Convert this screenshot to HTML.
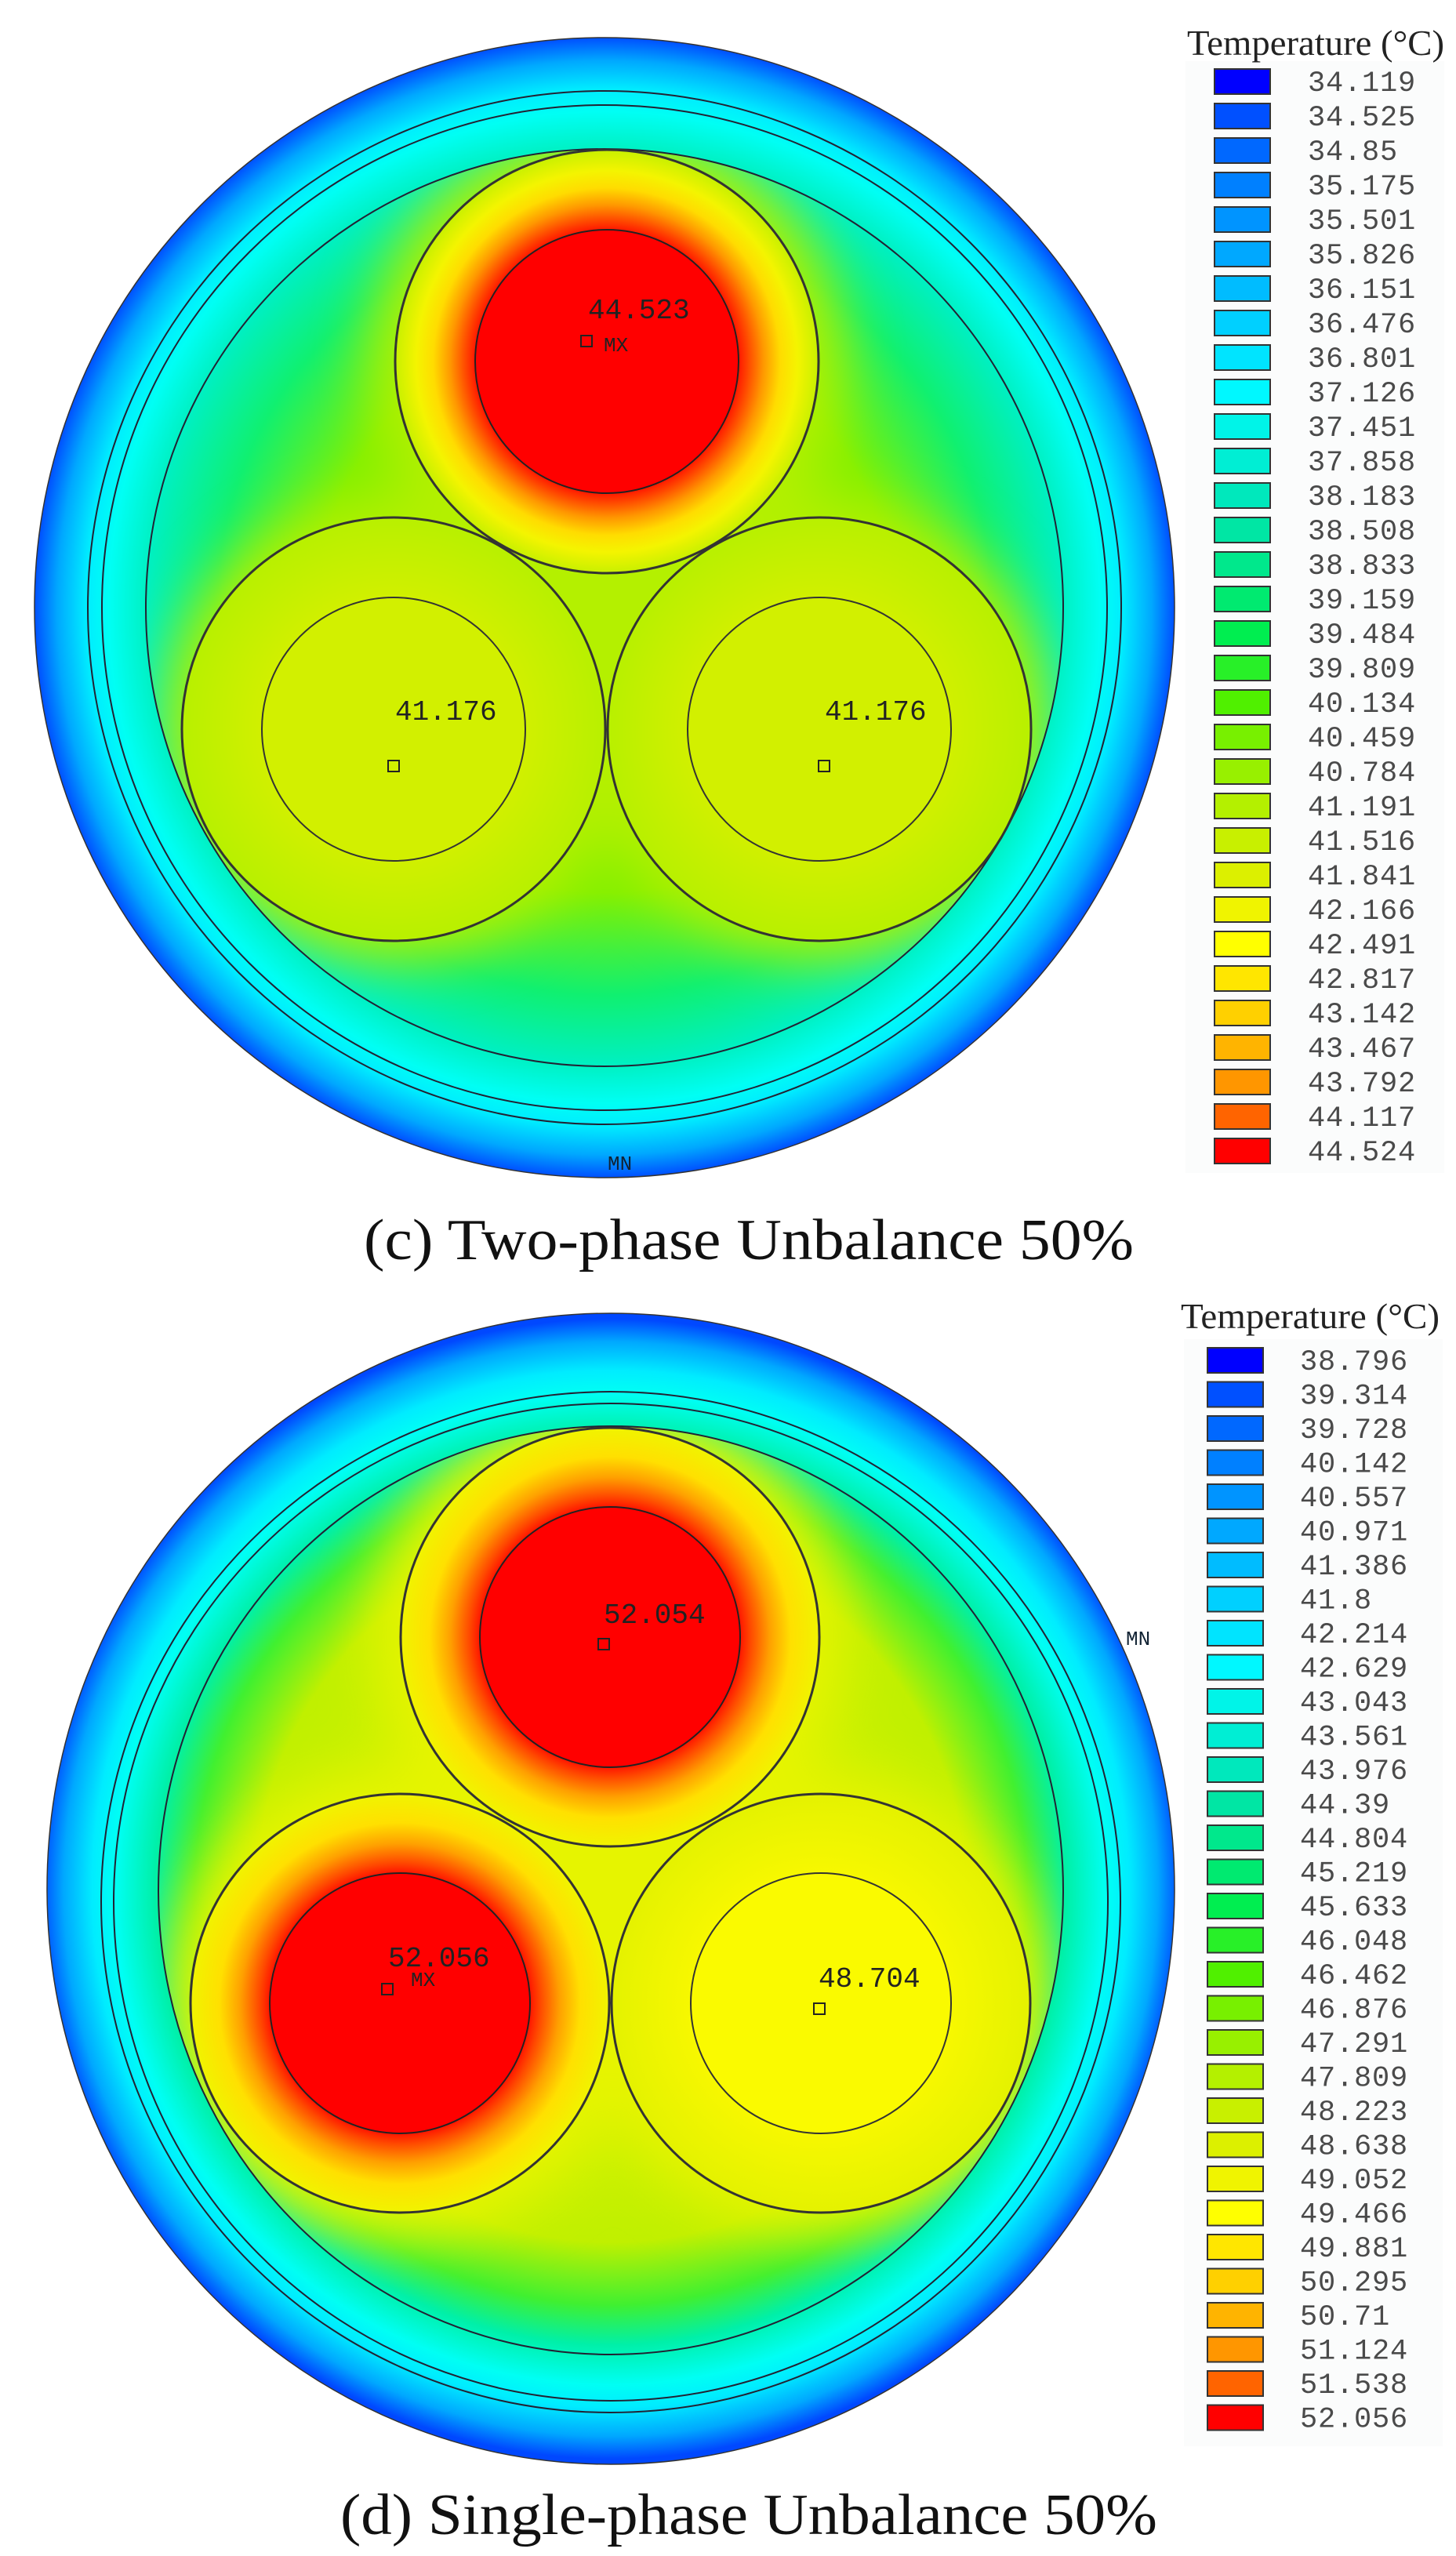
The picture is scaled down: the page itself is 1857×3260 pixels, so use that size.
<!DOCTYPE html>
<html><head><meta charset="utf-8">
<style>
html,body{margin:0;padding:0;background:#fff;}
svg{display:block;}
.lg{font-family:"Liberation Mono",monospace;font-size:37px;fill:#4a4a4a;letter-spacing:0.8px;}
.pl{font-family:"Liberation Mono",monospace;font-size:36px;fill:#222;}
.tt{font-family:"Liberation Serif",serif;font-size:46px;fill:#222;}
.cap{font-family:"Liberation Serif",serif;font-size:74px;fill:#111;}
</style></head>
<body>
<svg width="1857" height="3260" viewBox="0 0 1857 3260" xmlns="http://www.w3.org/2000/svg">
<defs>
 <radialGradient id="outA" gradientUnits="userSpaceOnUse" cx="771" cy="775" r="727">
  <stop offset="0" stop-color="#a8f000"/>
  <stop offset="0.5" stop-color="#80f000"/>
  <stop offset="0.68" stop-color="#10f070"/>
  <stop offset="0.8" stop-color="#00f0c0"/>
  <stop offset="0.87" stop-color="#00fff4"/>
  <stop offset="0.91" stop-color="#00ecff"/>
  <stop offset="0.96" stop-color="#00a8ff"/>
  <stop offset="1" stop-color="#0050ff"/>
 </radialGradient>
 <radialGradient id="outB" gradientUnits="userSpaceOnUse" cx="779" cy="2409" r="727">
  <stop offset="0" stop-color="#e4f200"/>
  <stop offset="0.62" stop-color="#c0f000"/>
  <stop offset="0.73" stop-color="#40f030"/>
  <stop offset="0.8" stop-color="#00f0a8"/>
  <stop offset="0.87" stop-color="#00fff4"/>
  <stop offset="0.91" stop-color="#00ecff"/>
  <stop offset="0.96" stop-color="#00a8ff"/>
  <stop offset="1" stop-color="#0048ff"/>
 </radialGradient>
 <radialGradient id="hotA" gradientUnits="userSpaceOnUse" cx="0" cy="0" r="270">
  <stop offset="0.6" stop-color="#ff0000"/>
  <stop offset="0.66" stop-color="#ff4000"/>
  <stop offset="0.74" stop-color="#ff9800"/>
  <stop offset="0.82" stop-color="#ffdc00"/>
  <stop offset="0.9" stop-color="#f4f400"/>
  <stop offset="1" stop-color="#c8f000"/>
 </radialGradient>
 <radialGradient id="hotB" gradientUnits="userSpaceOnUse" cx="0" cy="0" r="268">
  <stop offset="0.6" stop-color="#ff0000"/>
  <stop offset="0.67" stop-color="#ff4a00"/>
  <stop offset="0.76" stop-color="#ffa000"/>
  <stop offset="0.86" stop-color="#ffe000"/>
  <stop offset="1" stop-color="#f0f400"/>
 </radialGradient>
 <radialGradient id="warmA" gradientUnits="userSpaceOnUse" cx="0" cy="0" r="270">
  <stop offset="0.6" stop-color="#d2f000"/>
  <stop offset="1" stop-color="#b8f000"/>
 </radialGradient>
 <radialGradient id="warmB" gradientUnits="userSpaceOnUse" cx="0" cy="0" r="268">
  <stop offset="0.6" stop-color="#f8f800"/>
  <stop offset="1" stop-color="#e4f200"/>
 </radialGradient>
 <filter id="bl" x="-30%" y="-30%" width="160%" height="160%"><feGaussianBlur stdDeviation="35"/></filter>
 <clipPath id="cA"><circle cx="771" cy="775" r="585"/></clipPath>
 <clipPath id="cB"><ellipse cx="779" cy="2411" rx="577" ry="592"/></clipPath>
</defs>

<!-- ============ TOP CHART ============ -->
<circle cx="771" cy="775" r="727" fill="url(#outA)" stroke="#333" stroke-width="1.5"/>
<g clip-path="url(#cA)">
 <g filter="url(#bl)" fill="#b4f000">
  <circle cx="774" cy="460" r="300"/>
  <circle cx="502" cy="930" r="295"/>
  <circle cx="1045" cy="930" r="295"/>
  <polygon points="774,460 502,930 1045,930"/>
 </g>
</g>
<circle cx="771" cy="775" r="659" fill="none" stroke="#223" stroke-width="2"/>
<circle cx="771" cy="775" r="641" fill="none" stroke="#223" stroke-width="2"/>
<circle cx="771" cy="775" r="585" fill="none" stroke="#223" stroke-width="2"/>
<g transform="translate(502,930)"><circle r="270" fill="url(#warmA)" stroke="#333" stroke-width="3"/><circle r="168" fill="none" stroke="#333" stroke-width="2"/></g>
<g transform="translate(1045,930)"><circle r="270" fill="url(#warmA)" stroke="#333" stroke-width="3"/><circle r="168" fill="none" stroke="#333" stroke-width="2"/></g>
<g transform="translate(774,461)"><circle r="270" fill="url(#hotA)" stroke="#333" stroke-width="3"/><circle r="168" fill="#ff0000" stroke="#222" stroke-width="2"/></g>
<text class="pl" x="750" y="406">44.523</text>
<rect x="741" y="428" width="14" height="14" fill="none" stroke="#222" stroke-width="2"/>
<text class="pl" x="770" y="448" style="font-size:26px">MX</text>
<text class="pl" x="504" y="918">41.176</text>
<rect x="495" y="970" width="14" height="14" fill="none" stroke="#222" stroke-width="2"/>
<text class="pl" x="1052" y="918">41.176</text>
<rect x="1044" y="970" width="14" height="14" fill="none" stroke="#222" stroke-width="2"/>
<text class="pl" x="775" y="1492" style="font-size:26px;fill:#123">MN</text>

<!-- legend top -->
<rect x="1512" y="78" width="330" height="1418" fill="#fbfcfc"/>
<text class="tt" x="1514" y="70" textLength="328" lengthAdjust="spacingAndGlyphs">Temperature (°C)</text>
<g stroke="#333" stroke-width="2">
<rect x="1549" y="88" width="71" height="32" fill="#0000ff"/>
<rect x="1549" y="132" width="71" height="32" fill="#0050ff"/>
<rect x="1549" y="176" width="71" height="32" fill="#0068ff"/>
<rect x="1549" y="220" width="71" height="32" fill="#0080ff"/>
<rect x="1549" y="264" width="71" height="32" fill="#0094ff"/>
<rect x="1549" y="308" width="71" height="32" fill="#00a8ff"/>
<rect x="1549" y="352" width="71" height="32" fill="#00bcff"/>
<rect x="1549" y="396" width="71" height="32" fill="#00d0ff"/>
<rect x="1549" y="440" width="71" height="32" fill="#00e4ff"/>
<rect x="1549" y="484" width="71" height="32" fill="#00f8ff"/>
<rect x="1549" y="528" width="71" height="32" fill="#00f4e8"/>
<rect x="1549" y="572" width="71" height="32" fill="#00eed4"/>
<rect x="1549" y="616" width="71" height="32" fill="#00e8bc"/>
<rect x="1549" y="660" width="71" height="32" fill="#00e6a4"/>
<rect x="1549" y="704" width="71" height="32" fill="#00e88c"/>
<rect x="1549" y="748" width="71" height="32" fill="#00ea70"/>
<rect x="1549" y="792" width="71" height="32" fill="#00ee50"/>
<rect x="1549" y="836" width="71" height="32" fill="#28f028"/>
<rect x="1549" y="880" width="71" height="32" fill="#50f000"/>
<rect x="1549" y="924" width="71" height="32" fill="#78f000"/>
<rect x="1549" y="968" width="71" height="32" fill="#98f000"/>
<rect x="1549" y="1012" width="71" height="32" fill="#b4f000"/>
<rect x="1549" y="1056" width="71" height="32" fill="#c8f000"/>
<rect x="1549" y="1100" width="71" height="32" fill="#dcf000"/>
<rect x="1549" y="1144" width="71" height="32" fill="#f0f400"/>
<rect x="1549" y="1188" width="71" height="32" fill="#ffff00"/>
<rect x="1549" y="1232" width="71" height="32" fill="#ffe600"/>
<rect x="1549" y="1276" width="71" height="32" fill="#ffd000"/>
<rect x="1549" y="1320" width="71" height="32" fill="#ffb400"/>
<rect x="1549" y="1364" width="71" height="32" fill="#ff9600"/>
<rect x="1549" y="1408" width="71" height="32" fill="#ff6400"/>
<rect x="1549" y="1452" width="71" height="32" fill="#ff0000"/>
</g>
<g class="lg">
<text x="1668" y="116">34.119</text>
<text x="1668" y="160">34.525</text>
<text x="1668" y="204">34.85</text>
<text x="1668" y="248">35.175</text>
<text x="1668" y="292">35.501</text>
<text x="1668" y="336">35.826</text>
<text x="1668" y="380">36.151</text>
<text x="1668" y="424">36.476</text>
<text x="1668" y="468">36.801</text>
<text x="1668" y="512">37.126</text>
<text x="1668" y="556">37.451</text>
<text x="1668" y="600">37.858</text>
<text x="1668" y="644">38.183</text>
<text x="1668" y="688">38.508</text>
<text x="1668" y="732">38.833</text>
<text x="1668" y="776">39.159</text>
<text x="1668" y="820">39.484</text>
<text x="1668" y="864">39.809</text>
<text x="1668" y="908">40.134</text>
<text x="1668" y="952">40.459</text>
<text x="1668" y="996">40.784</text>
<text x="1668" y="1040">41.191</text>
<text x="1668" y="1084">41.516</text>
<text x="1668" y="1128">41.841</text>
<text x="1668" y="1172">42.166</text>
<text x="1668" y="1216">42.491</text>
<text x="1668" y="1260">42.817</text>
<text x="1668" y="1304">43.142</text>
<text x="1668" y="1348">43.467</text>
<text x="1668" y="1392">43.792</text>
<text x="1668" y="1436">44.117</text>
<text x="1668" y="1480">44.524</text>
</g>

<text class="cap" x="464" y="1606" textLength="982" lengthAdjust="spacingAndGlyphs">(c) Two-phase Unbalance 50%</text>

<!-- ============ BOTTOM CHART ============ -->
<ellipse cx="779" cy="2409" rx="719" ry="734" fill="url(#outB)" stroke="#333" stroke-width="1.5"/>
<g clip-path="url(#cB)">
 <g filter="url(#bl)" fill="#e6f400">
  <circle cx="778" cy="2088" r="300"/>
  <circle cx="510" cy="2555" r="300"/>
  <circle cx="1047" cy="2555" r="295"/>
  <polygon points="778,2088 510,2555 1047,2555"/>
 </g>
</g>
<ellipse cx="779" cy="2426" rx="650" ry="651" fill="none" stroke="#223" stroke-width="2"/>
<ellipse cx="779" cy="2426" rx="634" ry="636" fill="none" stroke="#223" stroke-width="2"/>
<ellipse cx="779" cy="2411" rx="577" ry="592" fill="none" stroke="#223" stroke-width="2"/>
<g transform="translate(1047,2555)"><circle r="267" fill="url(#warmB)" stroke="#333" stroke-width="3"/><circle r="166" fill="#fafa00" stroke="#333" stroke-width="2"/></g>
<g transform="translate(510,2555)"><circle r="267" fill="url(#hotB)" stroke="#333" stroke-width="3"/><circle r="166" fill="#ff0000" stroke="#222" stroke-width="2"/></g>
<g transform="translate(778,2088)"><circle r="267" fill="url(#hotB)" stroke="#333" stroke-width="3"/><circle r="166" fill="#ff0000" stroke="#222" stroke-width="2"/></g>
<text class="pl" x="770" y="2070">52.054</text>
<rect x="763" y="2090" width="14" height="14" fill="none" stroke="#222" stroke-width="2"/>
<text class="pl" x="495" y="2508">52.056</text>
<rect x="487" y="2530" width="14" height="14" fill="none" stroke="#222" stroke-width="2"/>
<text class="pl" x="524" y="2533" style="font-size:26px">MX</text>
<text class="pl" x="1044" y="2534">48.704</text>
<rect x="1038" y="2555" width="14" height="14" fill="none" stroke="#222" stroke-width="2"/>
<text class="pl" x="1436" y="2098" style="font-size:26px;fill:#123">MN</text>

<!-- legend bottom -->
<rect x="1510" y="1708" width="330" height="1412" fill="#fbfcfc"/>
<text class="tt" x="1506" y="1694" textLength="330" lengthAdjust="spacingAndGlyphs">Temperature (°C)</text>
<g stroke="#333" stroke-width="2">
<rect x="1540" y="1719" width="71" height="32" fill="#0000ff"/>
<rect x="1540" y="1762.5" width="71" height="32" fill="#0050ff"/>
<rect x="1540" y="1806" width="71" height="32" fill="#0068ff"/>
<rect x="1540" y="1849.5" width="71" height="32" fill="#0080ff"/>
<rect x="1540" y="1893" width="71" height="32" fill="#0094ff"/>
<rect x="1540" y="1936.5" width="71" height="32" fill="#00a8ff"/>
<rect x="1540" y="1980" width="71" height="32" fill="#00bcff"/>
<rect x="1540" y="2023.5" width="71" height="32" fill="#00d0ff"/>
<rect x="1540" y="2067" width="71" height="32" fill="#00e4ff"/>
<rect x="1540" y="2110.5" width="71" height="32" fill="#00f8ff"/>
<rect x="1540" y="2154" width="71" height="32" fill="#00f4e8"/>
<rect x="1540" y="2197.5" width="71" height="32" fill="#00eed4"/>
<rect x="1540" y="2241" width="71" height="32" fill="#00e8bc"/>
<rect x="1540" y="2284.5" width="71" height="32" fill="#00e6a4"/>
<rect x="1540" y="2328" width="71" height="32" fill="#00e88c"/>
<rect x="1540" y="2371.5" width="71" height="32" fill="#00ea70"/>
<rect x="1540" y="2415" width="71" height="32" fill="#00ee50"/>
<rect x="1540" y="2458.5" width="71" height="32" fill="#28f028"/>
<rect x="1540" y="2502" width="71" height="32" fill="#50f000"/>
<rect x="1540" y="2545.5" width="71" height="32" fill="#78f000"/>
<rect x="1540" y="2589" width="71" height="32" fill="#98f000"/>
<rect x="1540" y="2632.5" width="71" height="32" fill="#b4f000"/>
<rect x="1540" y="2676" width="71" height="32" fill="#c8f000"/>
<rect x="1540" y="2719.5" width="71" height="32" fill="#dcf000"/>
<rect x="1540" y="2763" width="71" height="32" fill="#f0f400"/>
<rect x="1540" y="2806.5" width="71" height="32" fill="#ffff00"/>
<rect x="1540" y="2850" width="71" height="32" fill="#ffe600"/>
<rect x="1540" y="2893.5" width="71" height="32" fill="#ffd000"/>
<rect x="1540" y="2937" width="71" height="32" fill="#ffb400"/>
<rect x="1540" y="2980.5" width="71" height="32" fill="#ff9600"/>
<rect x="1540" y="3024" width="71" height="32" fill="#ff6400"/>
<rect x="1540" y="3067.5" width="71" height="32" fill="#ff0000"/>
</g>
<g class="lg">
<text x="1658" y="1747">38.796</text>
<text x="1658" y="1790.5">39.314</text>
<text x="1658" y="1834">39.728</text>
<text x="1658" y="1877.5">40.142</text>
<text x="1658" y="1921">40.557</text>
<text x="1658" y="1964.5">40.971</text>
<text x="1658" y="2008">41.386</text>
<text x="1658" y="2051.5">41.8</text>
<text x="1658" y="2095">42.214</text>
<text x="1658" y="2138.5">42.629</text>
<text x="1658" y="2182">43.043</text>
<text x="1658" y="2225.5">43.561</text>
<text x="1658" y="2269">43.976</text>
<text x="1658" y="2312.5">44.39</text>
<text x="1658" y="2356">44.804</text>
<text x="1658" y="2399.5">45.219</text>
<text x="1658" y="2443">45.633</text>
<text x="1658" y="2486.5">46.048</text>
<text x="1658" y="2530">46.462</text>
<text x="1658" y="2573.5">46.876</text>
<text x="1658" y="2617">47.291</text>
<text x="1658" y="2660.5">47.809</text>
<text x="1658" y="2704">48.223</text>
<text x="1658" y="2747.5">48.638</text>
<text x="1658" y="2791">49.052</text>
<text x="1658" y="2834.5">49.466</text>
<text x="1658" y="2878">49.881</text>
<text x="1658" y="2921.5">50.295</text>
<text x="1658" y="2965">50.71</text>
<text x="1658" y="3008.5">51.124</text>
<text x="1658" y="3052">51.538</text>
<text x="1658" y="3095.5">52.056</text>
</g>

<text class="cap" x="434" y="3232" textLength="1042" lengthAdjust="spacingAndGlyphs">(d) Single-phase Unbalance 50%</text>
</svg>
</body></html>
